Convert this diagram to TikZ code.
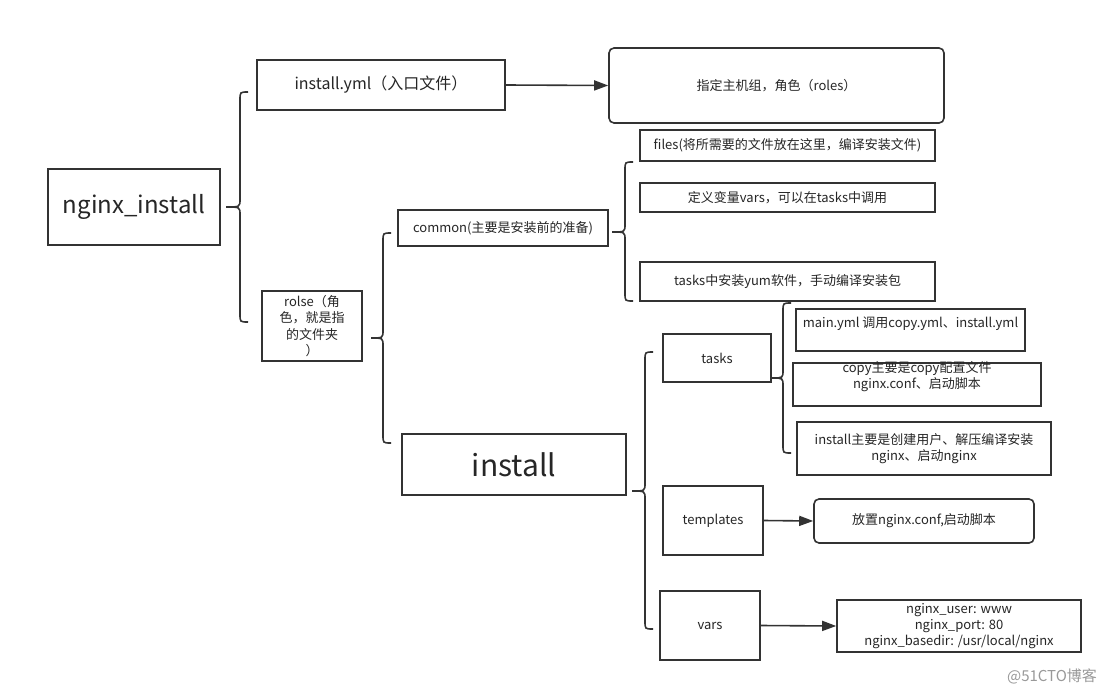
\documentclass[tikz,border=0pt]{standalone}
\usepackage{fontspec}
\setmainfont{Noto Sans CJK SC}
\usetikzlibrary{arrows.meta}
\definecolor{ln}{HTML}{333333}
\definecolor{tx}{HTML}{262626}
\newcommand\mybrace[6]{% tipx, midy, vx, topy, boty, r
  \draw[bracestyle] (#3+#6,#4) .. controls (#3,#4) .. (#3,#4+#6) -- (#3,#2-#6)
    .. controls (#3,#2) .. (#1,#2) .. controls (#3,#2) .. (#3,#2+#6)
    -- (#3,#5-#6) .. controls (#3,#5) .. (#3+#6,#5);}
\begin{document}
\begin{tikzpicture}[x=1pt,y=-1pt,
  box/.style={draw=ln, line width=1.6pt, text=tx, align=center, inner sep=0pt, font=\fontsize{13}{16.5}\selectfont},
  rbox/.style={box, rounded corners=5pt},
  bracestyle/.style={draw=ln, line width=1.6pt},
  arr/.style={draw=ln, line width=1.6pt, -{Triangle[length=14pt,width=10pt]}}]
\useasboundingbox[fill=white] (0,0) rectangle (1113,693);
% nodes
\node[box, minimum width=172, minimum height=76, font=\fontsize{24}{28}\selectfont] (root) at (134,207) {nginx\_install};
\node[box, minimum width=248, minimum height=50, font=\fontsize{16}{20}\selectfont] (yml) at (381,85) {install.yml（入口文件）};
\node[rbox, minimum width=335, minimum height=75] (host) at (776.5,85.5) {指定主机组，角色（roles）};
\node[box, minimum width=100, minimum height=70] (rolse) at (312,326) {};
\node[text=tx, align=center, font=\fontsize{13}{16.5}\selectfont] (rolset) at (rolse.center) {rolse（角\\色，就是指\\的文件夹\\）};
\node[box, minimum width=210, minimum height=36] (common) at (503,228) {common(主要是安装前的准备)};
\node[box, minimum width=295, minimum height=31] (files) at (787.5,145.5) {files(将所需要的文件放在这里，编译安装文件)};
\node[box, minimum width=295, minimum height=29] (defvars) at (787.5,197.5) {定义变量vars，可以在tasks中调用};
\node[box, minimum width=295, minimum height=39] (ctasks) at (787.5,281.5) {tasks中安装yum软件，手动编译安装包};
\node[box, minimum width=224, minimum height=61, font=\fontsize{30}{34}\selectfont] (install) at (514,464.5) {install};
\node[box, minimum width=108, minimum height=48] (tasks) at (717,358) {tasks};
\node[box, minimum width=229, minimum height=42] (mainyml) at (910.5,330) {};
\node[text=tx, font=\fontsize{13}{16.5}\selectfont] (mainymlt) at (910.5,324) {main.yml 调用copy.yml、install.yml};
\node[box, minimum width=248, minimum height=43] (copy) at (917,384.5) {};
\node[text=tx, align=center, font=\fontsize{13}{16}\selectfont] (copyt) at (917,377) {copy主要是copy配置文件\\nginx.conf、启动脚本};
\node[box, minimum width=254, minimum height=53] (instmain) at (924,448.5) {install主要是创建用户、解压编译安装\\nginx、启动nginx};
\node[box, minimum width=100, minimum height=69] (templates) at (713,520.5) {templates};
\node[rbox, minimum width=220, minimum height=44] (place) at (924,521) {放置nginx.conf,启动脚本};
\node[box, minimum width=100, minimum height=69] (vars) at (710,625.5) {vars};
\node[box, minimum width=244, minimum height=52, font=\fontsize{13}{16}\selectfont] (nvars) at (959,626) {nginx\_user: www\\nginx\_port: 80\\nginx\_basedir: /usr/local/nginx};
\node[text=black!40, font=\fontsize{15}{18}\selectfont] (wm) at (1052,676) {@51CTO博客};
% arrows
\draw[arr] (yml.east) -- (host.west);
\draw[arr] (templates.east) -- (place.west);
\draw[arr] (vars.east) -- (nvars.west);
% braces
\mybrace{226}{207}{240}{92}{322}{8}
\mybrace{371}{338}{383}{233}{443}{8}
\mybrace{612}{232}{625}{162}{301}{8}
\mybrace{632}{491}{645}{352}{629}{8}
\mybrace{772}{378}{783}{303}{453}{8}
\end{tikzpicture}
\end{document}
